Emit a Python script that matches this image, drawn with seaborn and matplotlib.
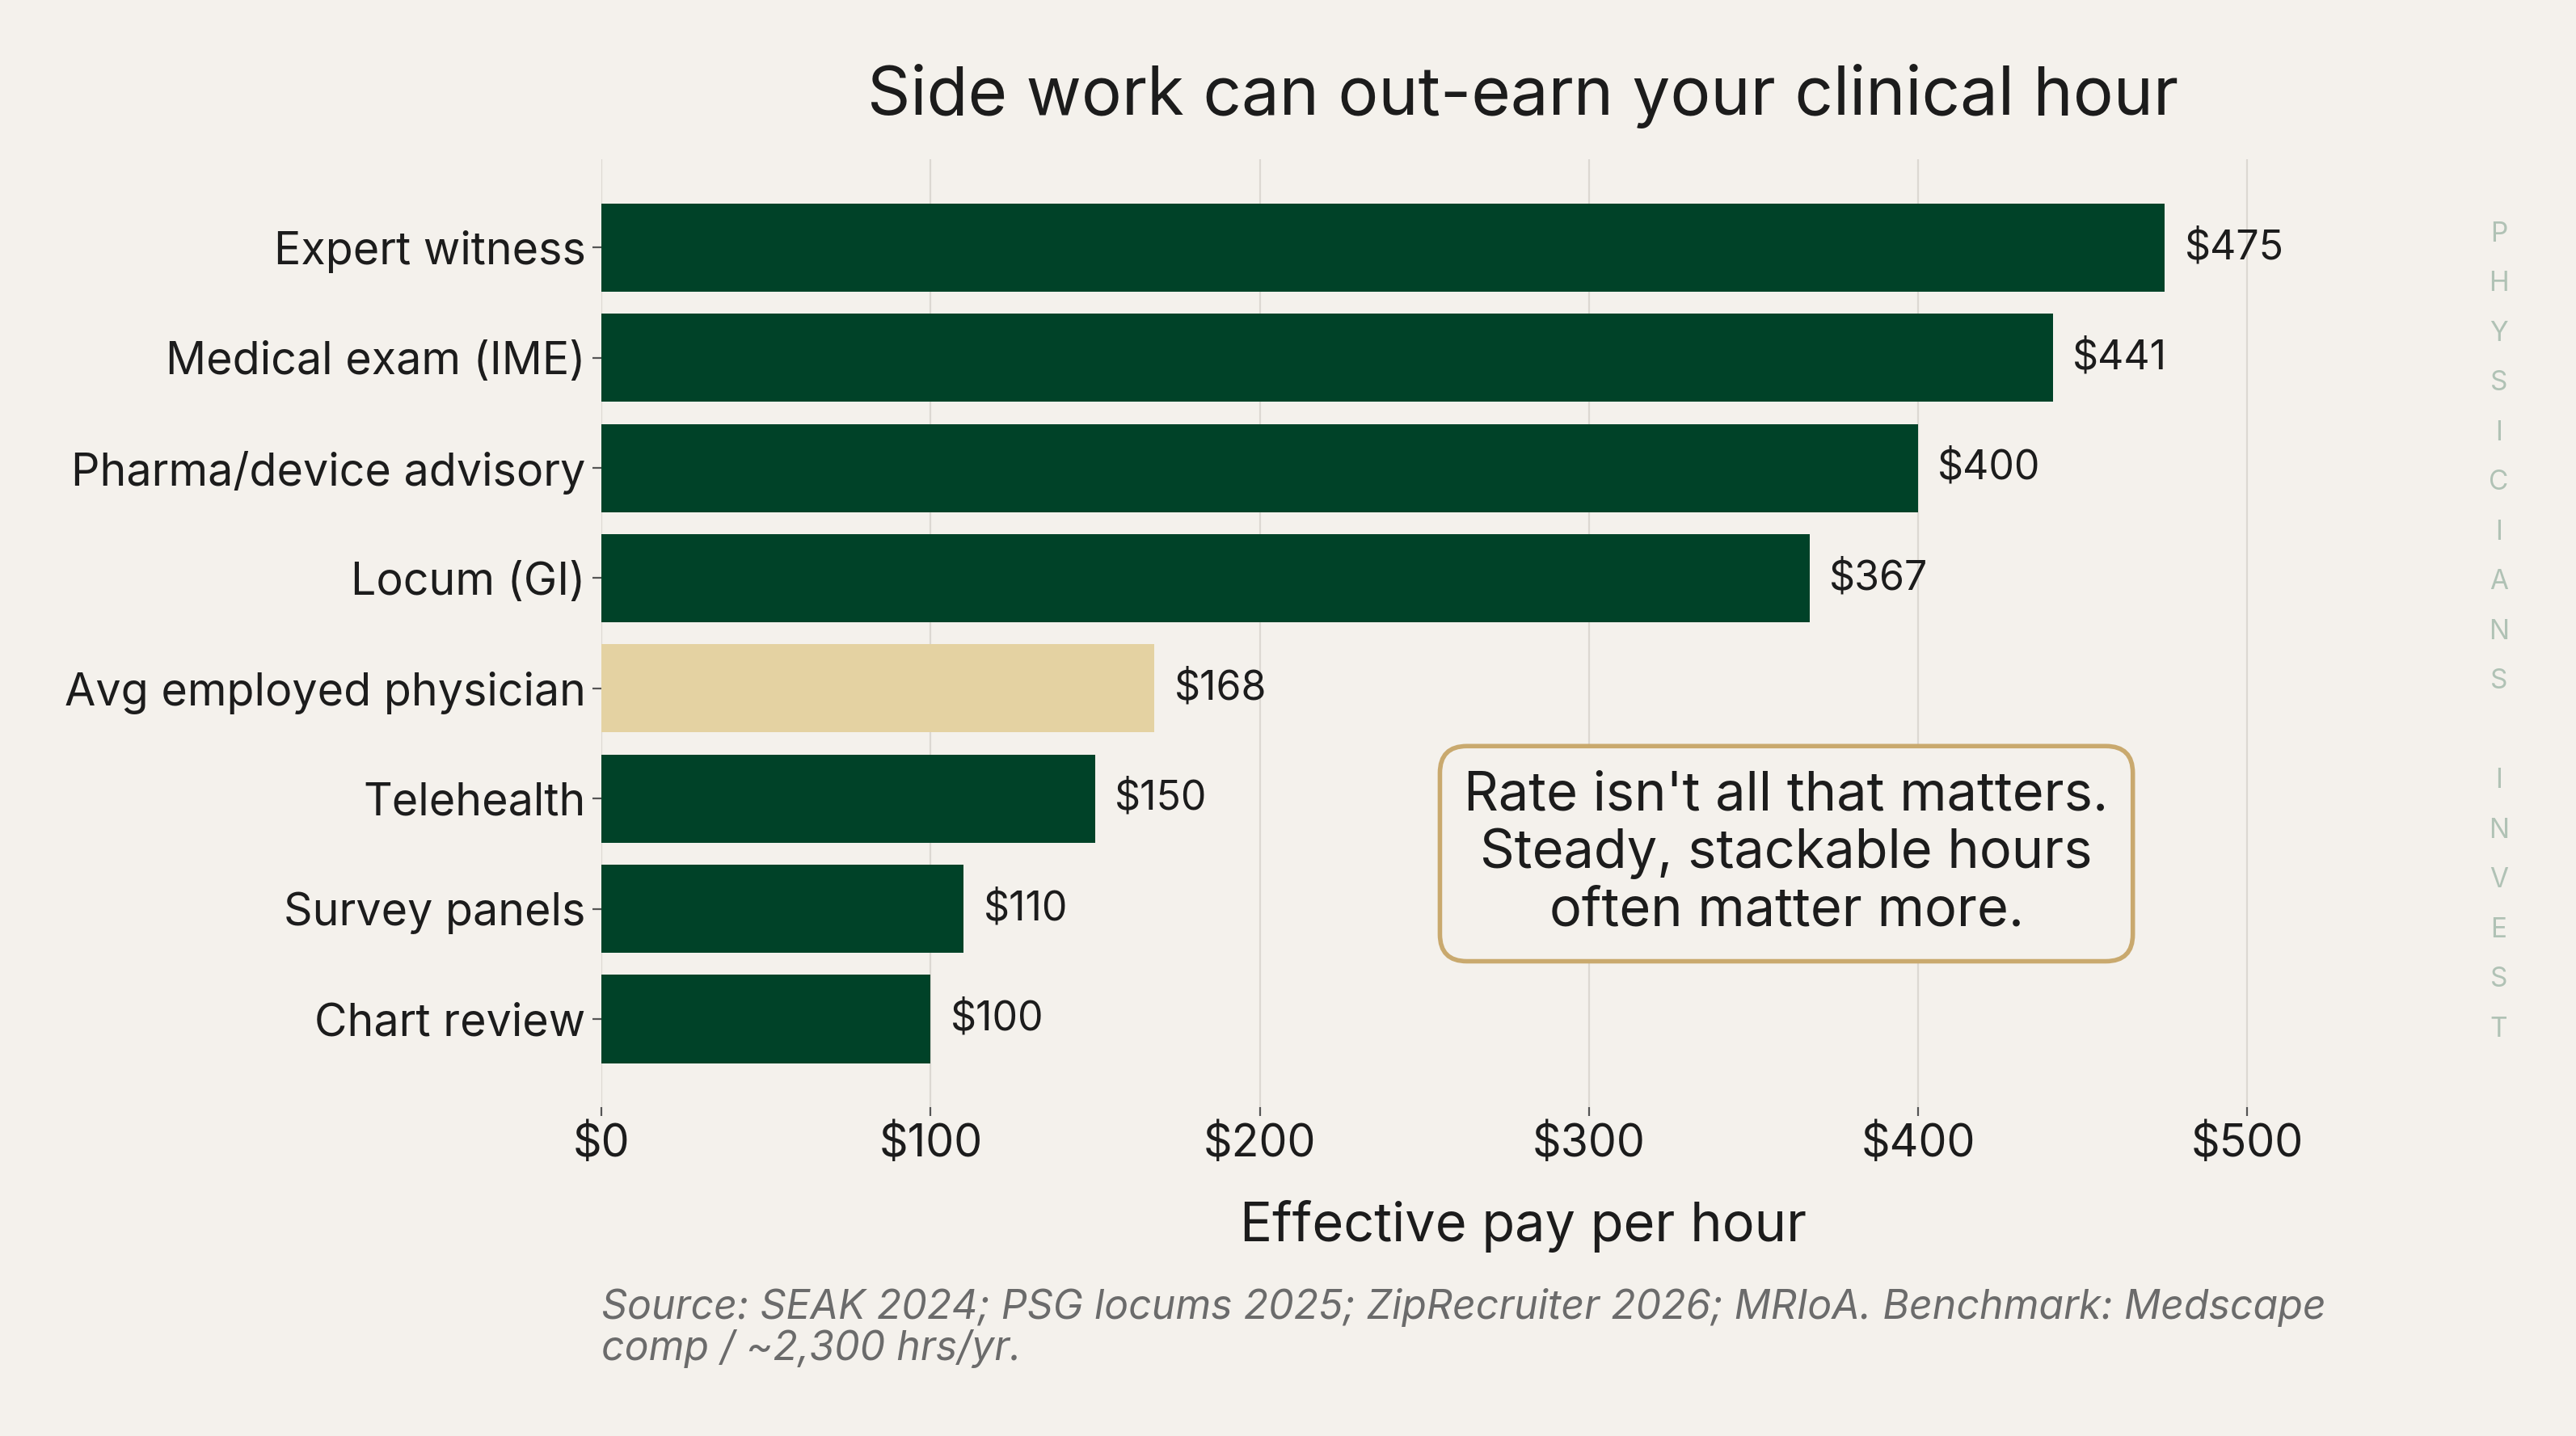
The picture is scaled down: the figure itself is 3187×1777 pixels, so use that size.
import matplotlib
matplotlib.use("Agg")
import matplotlib.pyplot as plt
import seaborn as sns
import pandas as pd

# chart data
categories = ["Expert witness", "Medical exam (IME)", "Pharma/device advisory", "Locum (GI)",
              "Avg employed physician", "Telehealth", "Survey panels", "Chart review"]
hourly_pay = [475, 441, 400, 367, 168, 150, 110, 100]
benchmark = "Avg employed physician"
x_ticks = [0, 100, 200, 300, 400, 500]

GREEN = "#004228"
SAND = "#e4d2a2"
BG = "#f4f1ec"
INK = "#1c1c1c"

df = pd.DataFrame({"activity": categories, "pay": hourly_pay})
palette = {c: (SAND if c == benchmark else GREEN) for c in categories}

sns.set_theme(style="whitegrid")
plt.rcParams["font.family"] = ["Inter", "DejaVu Sans"]

fig = plt.figure(figsize=(15.935, 8.885), dpi=200, facecolor=BG)
ax = fig.add_axes([0.2335, 0.229, 0.7155, 0.66], facecolor=BG)

sns.barplot(data=df, y="activity", x="pay", hue="activity", palette=palette,
            orient="h", width=0.8, legend=False, saturation=1, linewidth=0, ax=ax)

for i, v in enumerate(hourly_pay):
    ax.text(v + 6, i, f"${v}", va="center", ha="left", fontsize=18, color=INK)

ax.set_xlim(0, 560)
ax.set_ylim(7.8, -0.8)
ax.set_xticks(x_ticks)
ax.set_xticklabels([f"${t}" for t in x_ticks])
ax.tick_params(axis="x", labelsize=20, colors=INK, length=4, width=0.8, pad=3)
ax.tick_params(axis="y", labelsize=20, colors=INK, length=4, width=0.8, pad=3)
ax.tick_params(axis="both", which="major", bottom=True, left=True, color="#555555")
ax.grid(axis="x", color="#dcd8d2", linewidth=0.8)
ax.grid(axis="y", visible=False)
for s in ax.spines.values():
    s.set_visible(False)

ax.set_ylabel("")
ax.set_xlabel("Effective pay per hour", fontsize=24, color=INK, labelpad=15.5)
ax.set_title("Side work can out-earn your clinical hour", fontsize=30, color=INK, pad=20)

ax.text(360, 5.5, "Rate isn't all that matters.\nSteady, stackable hours\noften matter more.",
        ha="center", va="center", fontsize=24, color=INK, linespacing=1.17,
        bbox=dict(boxstyle="round,pad=0.45,rounding_size=0.5", facecolor=BG,
                  edgecolor="#c9a96e", linewidth=2))

fig.text(0.2335, 0.047, "Source: SEAK 2024; PSG locums 2025; ZipRecruiter 2026; MRIoA. Benchmark: Medscape\ncomp / ~2,300 hrs/yr.",
         ha="left", va="bottom", fontsize=18, style="italic", color="#6b6b6b", linespacing=1.1)

fig.text(0.970, 0.56, "\n".join("PHYSICIANS INVEST"), ha="center", va="center",
         fontsize=12, color="#b0c2b5", linespacing=2.18)

fig.savefig("out.png", dpi=200, facecolor=BG)
